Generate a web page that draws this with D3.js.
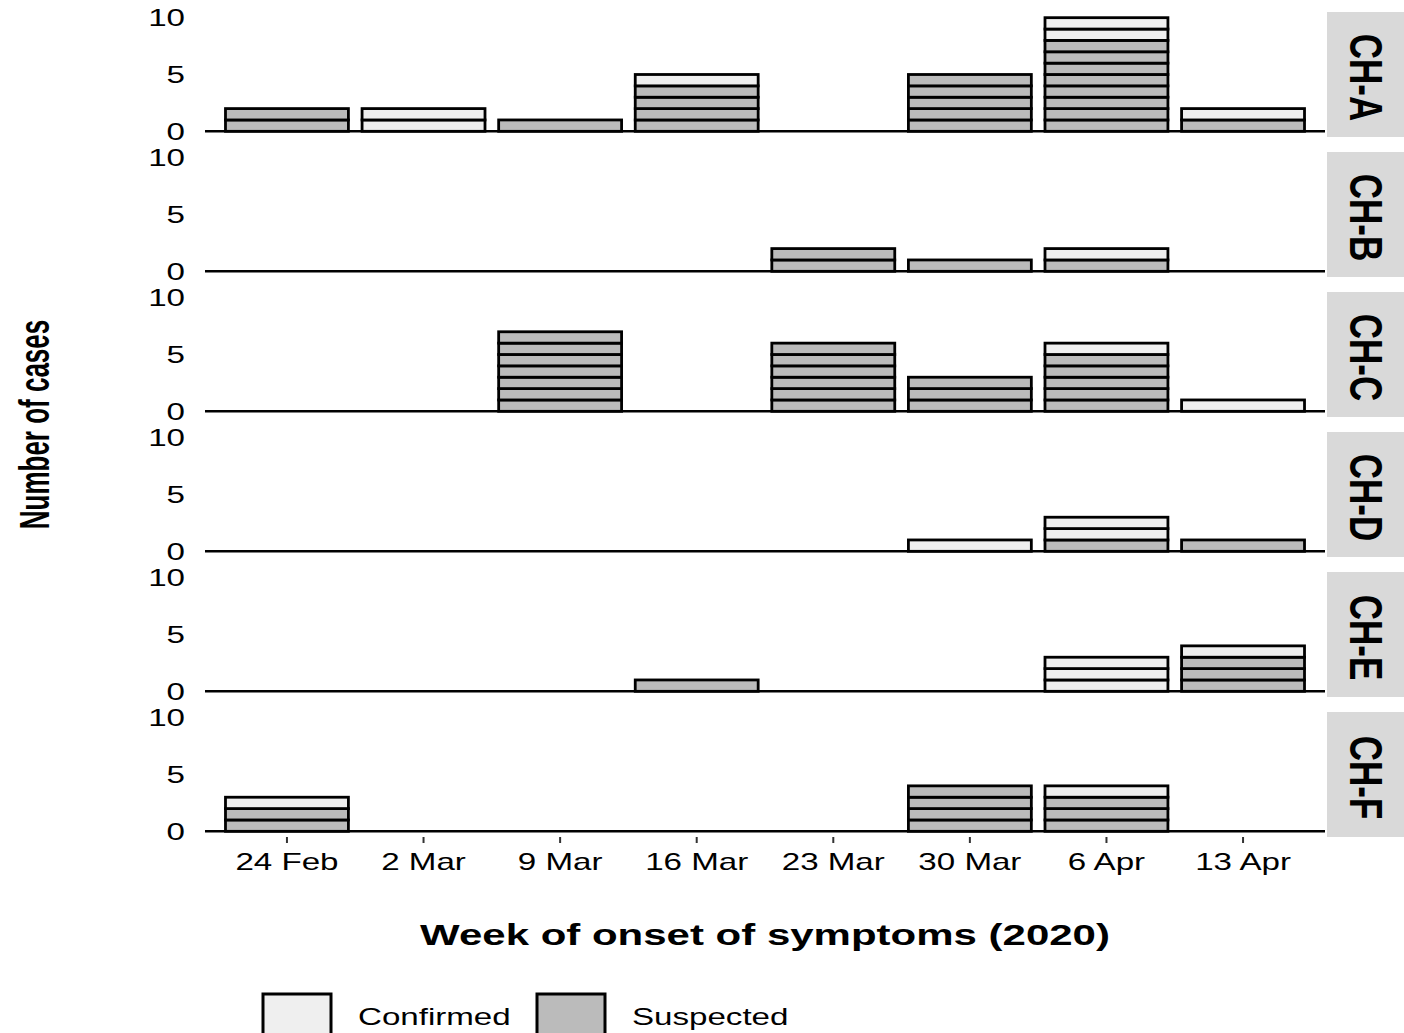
<!DOCTYPE html>
<html>
<head>
<meta charset="utf-8">
<script src="https://cdn.jsdelivr.net/npm/d3@7"></script>
<style>
  body { margin: 0; background: #fff; }
  text { font-family: "Liberation Sans", Arial, sans-serif; fill: #000; }
</style>
</head>
<body>
<div id="chart"></div>
<script>
// weeks of onset (x categories) and facets
var weeks = ["24 Feb", "2 Mar", "9 Mar", "16 Mar", "23 Mar", "30 Mar", "6 Apr", "13 Apr"];
var sites = ["CH-A", "CH-B", "CH-C", "CH-D", "CH-E", "CH-F"];
var yTicks = [0, 5, 10];

// counts per site (rows) and week (columns)
var suspected = [
  [2, 0, 1, 4, 0, 5, 8, 1],
  [0, 0, 0, 0, 2, 1, 1, 0],
  [0, 0, 7, 0, 6, 3, 5, 0],
  [0, 0, 0, 0, 0, 0, 1, 1],
  [0, 0, 0, 1, 0, 0, 0, 3],
  [2, 0, 0, 0, 0, 4, 3, 0]
];
var confirmed = [
  [0, 2, 0, 1, 0, 0, 2, 1],
  [0, 0, 0, 0, 0, 0, 1, 0],
  [0, 0, 0, 0, 0, 0, 1, 1],
  [0, 0, 0, 0, 0, 1, 2, 0],
  [0, 0, 0, 0, 0, 0, 3, 1],
  [1, 0, 0, 0, 0, 0, 1, 0]
];

var statusKeys = ["Confirmed", "Suspected"];
var statusColors = ["#efefef", "#bbbbbb"];

var width = 1404, height = 1033;
var left = 205, right = 1325;
var panelTop = 12, panelH = 125, panelGap = 15;
var sx = 1.38;   // text in the reference is wide

var svg = d3.select("#chart").append("svg")
  .attr("width", width).attr("height", height);

var x = d3.scaleBand().domain(weeks).range([left, right])
  .paddingInner(0.1).paddingOuter(0.15);
var fill = d3.scaleOrdinal().domain(statusKeys).range(statusColors);

// one block per case, suspected at the bottom
function blocks(i) {
  var out = [];
  weeks.forEach(function(w, j) {
    var s = suspected[i][j], c = confirmed[i][j];
    for (var k = 0; k < s; k++) out.push({week: w, y0: k, y1: k + 1, status: "Suspected"});
    for (var k = 0; k < c; k++) out.push({week: w, y0: s + k, y1: s + k + 1, status: "Confirmed"});
  });
  return out;
}

sites.forEach(function(site, i) {
  var top = panelTop + i * (panelH + panelGap);
  var y = d3.scaleLinear().domain([-0.5, 10.5]).range([top + panelH, top]);
  var g = svg.append("g");

  g.append("line")
    .attr("x1", left).attr("x2", right)
    .attr("y1", y(0)).attr("y2", y(0))
    .attr("stroke", "#000").attr("stroke-width", 2.5);

  g.selectAll("rect.case").data(blocks(i)).enter().append("rect")
    .attr("class", "case")
    .attr("x", function(d) { return x(d.week); })
    .attr("width", x.bandwidth())
    .attr("y", function(d) { return y(d.y1); })
    .attr("height", function(d) { return y(d.y0) - y(d.y1); })
    .attr("fill", function(d) { return fill(d.status); })
    .attr("stroke", "#000").attr("stroke-width", 2.8);

  g.selectAll("text.ytick").data(yTicks).enter().append("text")
    .attr("class", "ytick")
    .attr("transform", function(d) { return "translate(185," + y(d) + ") scale(" + sx + ",1)"; })
    .attr("text-anchor", "end").attr("dy", "0.36em")
    .style("font-size", "24px")
    .text(function(d) { return d; });

  // facet strip
  g.append("rect")
    .attr("x", right + 2).attr("y", top)
    .attr("width", width - right - 2).attr("height", panelH)
    .attr("fill", "#d9d9d9");
  g.append("text")
    .attr("transform", "translate(" + (right + 2 + (width - right - 2) / 2 + 1) + "," + (top + panelH / 2 + 3) + ") scale(1.3,1) rotate(90)")
    .attr("text-anchor", "middle").attr("dy", "0.36em")
    .style("font-size", "35px").style("font-weight", "bold")
    .text(site);
});

// x axis below last panel
var bottom = panelTop + sites.length * (panelH + panelGap) - panelGap;
var xAxis = svg.append("g");
xAxis.selectAll("line").data(weeks).enter().append("line")
  .attr("x1", function(d) { return x(d) + x.bandwidth() / 2; })
  .attr("x2", function(d) { return x(d) + x.bandwidth() / 2; })
  .attr("y1", bottom).attr("y2", bottom + 6)
  .attr("stroke", "#333").attr("stroke-width", 2);
xAxis.selectAll("text").data(weeks).enter().append("text")
  .attr("transform", function(d) { return "translate(" + (x(d) + x.bandwidth() / 2) + "," + (bottom + 24) + ") scale(" + sx + ",1)"; })
  .attr("text-anchor", "middle").attr("dy", "0.36em")
  .style("font-size", "24px")
  .text(function(d) { return d; });

// axis titles
svg.append("text")
  .attr("transform", "translate(" + ((left + right) / 2) + ",934) scale(1.4,1)")
  .attr("text-anchor", "middle").attr("dy", "0.36em")
  .style("font-size", "30px").style("font-weight", "bold")
  .text("Week of onset of symptoms (2020)");

svg.append("text")
  .attr("transform", "translate(34," + ((panelTop + bottom) / 2) + ") scale(1.6,1) rotate(-90)")
  .attr("text-anchor", "middle").attr("dy", "0.36em")
  .style("font-size", "26px").style("font-weight", "bold")
  .text("Number of cases");

// legend
var legendX = [263, 537];
var legend = svg.append("g");
statusKeys.forEach(function(k, i) {
  legend.append("rect")
    .attr("x", legendX[i]).attr("y", 994)
    .attr("width", 68).attr("height", 48)
    .attr("fill", fill(k)).attr("stroke", "#000").attr("stroke-width", 3);
  legend.append("text")
    .attr("transform", "translate(" + (legendX[i] + 95) + ",1016) scale(" + sx + ",1)")
    .attr("dy", "0.36em")
    .style("font-size", "24px")
    .text(k);
});
</script>
</body>
</html>
